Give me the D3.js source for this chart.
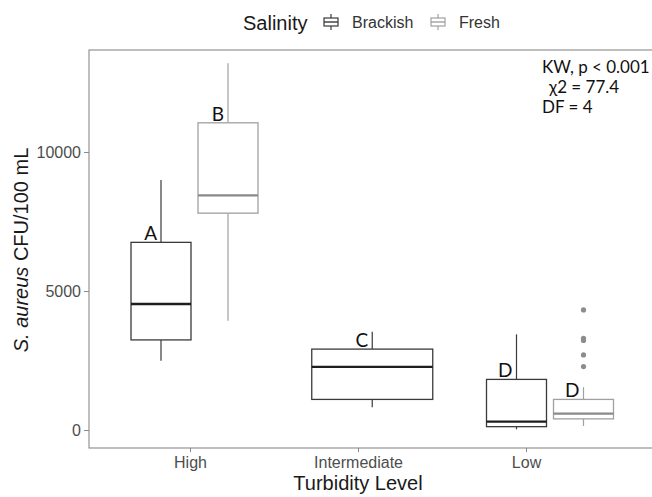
<!DOCTYPE html>
<meta charset="utf-8">
<style>
body { margin: 0; background: #fff; }
</style>
<svg id="mysvg" width="652" height="497"></svg>
<script src="https://cdn.jsdelivr.net/npm/d3@7"></script>
<script>

// data
var categories = ["High", "Intermediate", "Low"];
var yTicks = [0, 5000, 10000];

var brackishMin = [2490, 820, 25];
var brackishQ1 = [3240, 1100, 120];
var brackishMed = [4530, 2270, 300];
var brackishQ3 = [6750, 2910, 1820];
var brackishMax = [8990, 3530, 3440];

var freshCats = ["High", "Low"];
var freshMin = [3930, 145];
var freshQ1 = [7800, 400];
var freshMed = [8440, 590];
var freshQ3 = [11050, 1100];
var freshMax = [13190, 1540];
var freshOutliers = [4320, 3300, 3220, 2700, 2280];   // all in "Low"

var brackishLetters = ["A", "C", "D"];
var freshLetters = ["B", "D"];

var svg = d3.select("#mysvg");

var panel = {left: 89, top: 50, right: 660, bottom: 448};

var y = d3.scaleLinear()
	.domain([0, 10000])
	.range([430, 152]);

// axis positions of the labels
var xAxisScale = d3.scalePoint()
	.domain(categories)
	.range([190, 526]);

// positions of the box groups
var xBox = d3.scalePoint()
	.domain(categories)
	.range([194.5, 550]);

var dodge = 33.5, boxW = 60;

// panel border
svg.append("rect")
	.attr("x", panel.left).attr("y", panel.top)
	.attr("width", panel.right - panel.left).attr("height", panel.bottom - panel.top)
	.attr("fill", "none").attr("stroke", "#8a8a8a").attr("stroke-width", 1.1);

// build box records
var boxes = [];
categories.forEach(function(c, i){
	var single = freshCats.indexOf(c) < 0;
	boxes.push({cx: single ? xBox(c) : xBox(c) - dodge, w: single ? 121 : boxW,
		min: brackishMin[i], q1: brackishQ1[i], med: brackishMed[i], q3: brackishQ3[i], max: brackishMax[i],
		color: "#3a3a3a", medColor: "#1e1e1e", letter: brackishLetters[i]});
});
freshCats.forEach(function(c, i){
	boxes.push({cx: xBox(c) + dodge, w: boxW,
		min: freshMin[i], q1: freshQ1[i], med: freshMed[i], q3: freshQ3[i], max: freshMax[i],
		color: "#a0a0a0", medColor: "#8a8a8a", letter: freshLetters[i]});
});

var g = svg.selectAll("g.box")
	.data(boxes)
	.enter().append("g").attr("class", "box");

g.append("line")
	.attr("x1", function(d){ return d.cx; }).attr("x2", function(d){ return d.cx; })
	.attr("y1", function(d){ return y(d.max); }).attr("y2", function(d){ return y(d.q3); })
	.attr("stroke", function(d){ return d.color; }).attr("stroke-width", 1.2);
g.append("line")
	.attr("x1", function(d){ return d.cx; }).attr("x2", function(d){ return d.cx; })
	.attr("y1", function(d){ return y(d.q1); }).attr("y2", function(d){ return y(d.min); })
	.attr("stroke", function(d){ return d.color; }).attr("stroke-width", 1.2);
g.append("rect")
	.attr("x", function(d){ return d.cx - d.w / 2; })
	.attr("width", function(d){ return d.w; })
	.attr("y", function(d){ return y(d.q3); })
	.attr("height", function(d){ return y(d.q1) - y(d.q3); })
	.attr("fill", "#fff").attr("stroke", function(d){ return d.color; }).attr("stroke-width", 1.3);
g.append("line")
	.attr("x1", function(d){ return d.cx - d.w / 2; }).attr("x2", function(d){ return d.cx + d.w / 2; })
	.attr("y1", function(d){ return y(d.med); }).attr("y2", function(d){ return y(d.med); })
	.attr("stroke", function(d){ return d.medColor; }).attr("stroke-width", 2.4);
g.append("text")
	.attr("x", function(d){ return d.cx - 4; })
	.attr("y", function(d){ return y(d.q3) - 2; })
	.attr("text-anchor", "end")
	.attr("font-family", "Lato, 'Open Sans', sans-serif")
	.attr("font-size", 19)
	.attr("fill", "#111")
	.text(function(d){ return d.letter; });

svg.selectAll("circle.out")
	.data(freshOutliers)
	.enter().append("circle")
	.attr("class", "out")
	.attr("cx", xBox("Low") + dodge)
	.attr("cy", function(d){ return y(d); })
	.attr("r", 2.6)
	.attr("fill", "#8c8c8c");

// axes
var font = "'Liberation Sans', Arial, sans-serif";

var xAxis = svg.append("g")
	.attr("transform", "translate(0," + panel.bottom + ")")
	.call(d3.axisBottom(xAxisScale).tickSize(4).tickPadding(5));
xAxis.select(".domain").remove();
xAxis.selectAll("line").attr("stroke", "#8a8a8a");
xAxis.selectAll("text").attr("font-family", font).attr("font-size", 16).attr("fill", "#4d4d4d");

var yAxis = svg.append("g")
	.attr("transform", "translate(" + panel.left + ",0)")
	.call(d3.axisLeft(y).tickValues(yTicks).tickFormat(d3.format("d")).tickSize(5).tickPadding(3));
yAxis.select(".domain").remove();
yAxis.selectAll("line").attr("stroke", "#8a8a8a");
yAxis.selectAll("text").attr("font-family", font).attr("font-size", 16).attr("fill", "#4d4d4d");

svg.append("text")
	.attr("x", 358).attr("y", 490)
	.attr("text-anchor", "middle")
	.attr("font-family", font).attr("font-size", 20).attr("fill", "#1a1a1a")
	.text("Turbidity Level");

var ytitle = svg.append("text")
	.attr("transform", "translate(28,250) rotate(-90)")
	.attr("text-anchor", "middle")
	.attr("font-family", font).attr("font-size", 20).attr("fill", "#1a1a1a");
ytitle.append("tspan").attr("font-style", "italic").text("S. aureus");
ytitle.append("tspan").text(" CFU/100 mL");

// legend
svg.append("text")
	.attr("x", 243).attr("y", 30)
	.attr("font-family", font).attr("font-size", 20).attr("fill", "#1a1a1a")
	.text("Salinity");

var legendItems = [
	{name: "Brackish", color: "#3a3a3a", x: 323},
	{name: "Fresh", color: "#a0a0a0", x: 430}
];
var lg = svg.selectAll("g.leg")
	.data(legendItems)
	.enter().append("g").attr("class", "leg")
	.attr("transform", function(d){ return "translate(" + d.x + ",13)"; });
lg.append("line").attr("x1", 8).attr("x2", 8).attr("y1", 1).attr("y2", 17)
	.attr("stroke", function(d){ return d.color; }).attr("stroke-width", 1.2);
lg.append("rect").attr("x", 1).attr("y", 5).attr("width", 14).attr("height", 8)
	.attr("fill", "#fff").attr("stroke", function(d){ return d.color; }).attr("stroke-width", 1.2);
lg.append("line").attr("x1", 1).attr("x2", 15).attr("y1", 9).attr("y2", 9)
	.attr("stroke", function(d){ return d.color; }).attr("stroke-width", 1.4);
lg.append("text")
	.attr("x", 29).attr("y", 15)
	.attr("font-family", font).attr("font-size", 16).attr("fill", "#333")
	.text(function(d){ return d.name; });

// stats note
var noteLines = [
	{t: "KW, p < 0.001", x: 542},
	{t: "\u03c72 = 77.4", x: 549},
	{t: "DF = 4", x: 542}
];
svg.selectAll("text.note")
	.data(noteLines)
	.enter().append("text")
	.attr("class", "note")
	.attr("x", function(d){ return d.x; })
	.attr("y", function(d, i){ return 73 + i * 20; })
	.attr("font-family", "Lato, 'Open Sans', sans-serif")
	.attr("font-size", 17)
	.attr("fill", "#111")
	.text(function(d){ return d.t; });

</script>
